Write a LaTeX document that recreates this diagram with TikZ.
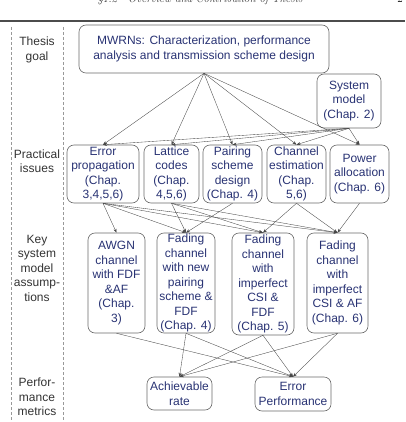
\documentclass[tikz,border=0pt]{standalone}
\usepackage{fontspec}
\newfontfamily\diagfont{Liberation Sans}
\usetikzlibrary{arrows.meta}
\definecolor{boxtext}{RGB}{40,50,115}
\definecolor{boxline}{RGB}{105,105,105}
\definecolor{linkgray}{RGB}{70,70,70}

\begin{document}
\begin{tikzpicture}[x=1pt,y=-1pt,
    box/.style={draw=boxline,line width=0.6pt,rounded corners=7pt,align=center,
        inner sep=0pt,text=boxtext,font=\diagfont\fontsize{12}{14.5}\selectfont},
    rowlabel/.style={align=center,inner sep=0pt,text=black!80,
        font=\diagfont\fontsize{12}{14.5}\selectfont},
    link/.style={draw=linkgray,line width=0.35pt,-{Stealth[length=4pt,width=3pt]}}]
    \useasboundingbox (0,0) rectangle (405,422);

    \node[anchor=base,font=\itshape\fontsize{11}{13}\selectfont,text=black!80] (head) at (200,3)
        {\S1.2\quad Overview and Contribution of Thesis};
    \node[anchor=base,font=\fontsize{11}{13}\selectfont] (pagenum) at (400,3) {2};
    \draw[line width=1.1pt,black!70] (0,21) -- (405,21);

    \draw[dashed,black!40,dash pattern=on 3pt off 2pt] (11,27) -- (11,422);
    \draw[dashed,black!40,dash pattern=on 3pt off 2pt] (63,27) -- (63,422);

    \node[rowlabel] (lgoal) at (37,50) {Thesis\\goal};
    \node[rowlabel] (lissue) at (37,161) {Practical\\issues};
    \node[rowlabel] (lmodel) at (37,268) {Key\\system\\model\\assump-\\tions};
    \node[rowlabel] (lmetric) at (37,397) {Perfor-\\mance\\metrics};

    \node[box,minimum width=250pt,minimum height=48pt] (goal) at (204,49)
        {MWRNs: Characterization, performance\\analysis and transmission scheme design};
    \node[box,minimum width=64pt,minimum height=54pt] (sys) at (349,101)
        {System\\model\\(Chap. 2)};

    \node[box,minimum width=72pt,minimum height=58pt] (err) at (103,174)
        {Error\\propagation\\(Chap.\\3,4,5,6)};
    \node[box,minimum width=55pt,minimum height=58pt] (lat) at (171.5,174)
        {Lattice\\codes\\(Chap.\\4,5,6)};
    \node[box,minimum width=59pt,minimum height=58pt] (pair) at (232.5,174)
        {Pairing\\scheme\\design\\(Chap. 4)};
    \node[box,minimum width=59pt,minimum height=58pt] (chan) at (296.5,174)
        {Channel\\estimation\\(Chap.\\5,6)};
    \node[box,minimum width=59pt,minimum height=58pt] (pow) at (359.5,174)
        {Power\\allocation\\(Chap. 6)};

    \node[box,minimum width=57pt,minimum height=100pt] (awgn) at (116.5,283)
        {AWGN\\channel\\with FDF\\\&AF\\(Chap.\\3)};
    \node[box,minimum width=58pt,minimum height=100pt] (fnew) at (186,283)
        {Fading\\channel\\with new\\pairing\\scheme \&\\FDF\\(Chap. 4)};
    \node[box,minimum width=62pt,minimum height=102pt] (ffdf) at (263,284)
        {Fading\\channel\\with\\imperfect\\CSI \&\\FDF\\(Chap. 5)};
    \node[box,minimum width=61pt,minimum height=100pt] (faf) at (337.5,283)
        {Fading\\channel\\with\\imperfect\\CSI \& AF\\(Chap. 6)};

    \node[box,minimum width=65pt,minimum height=33pt] (ach) at (179.5,393.5)
        {Achievable\\rate};
    \node[box,minimum width=76pt,minimum height=34pt] (ep) at (293,394)
        {Error\\Performance};

    \draw[link] (goal.south) -- (err.north);
    \draw[link] (goal.south) -- (lat.north);
    \draw[link] (goal.south) -- (pair.north);
    \draw[link] (goal.south) -- (chan.north);
    \draw[link] (goal.south) -- (pow.north);

    \draw[link] (sys.south) -- (err.north);
    \draw[link] (sys.south) -- (lat.north);
    \draw[link] (sys.south) -- (pair.north);
    \draw[link] (sys.south) -- (chan.north);
    \draw[link] (sys.south) -- (pow.north);

    \draw[link] (err.south) -- (awgn.north);
    \draw[link] (err.south) -- (fnew.north);
    \draw[link] (err.south) -- (ffdf.north);
    \draw[link] (err.south) -- (faf.north);
    \draw[link] (lat.south) -- (fnew.north);
    \draw[link] (lat.south) -- (ffdf.north);
    \draw[link] (lat.south) -- (faf.north);
    \draw[link] (pair.south) -- (fnew.north);
    \draw[link] (chan.south) -- (ffdf.north);
    \draw[link] (chan.south) -- (faf.north);
    \draw[link] (pow.south) -- (faf.north);

    \draw[link] (awgn.south) -- (ep.north);
    \draw[link] (fnew.south) -- (ach.north);
    \draw[link] (fnew.south) -- (ep.north);
    \draw[link] (ffdf.south) -- (ach.north);
    \draw[link] (ffdf.south) -- (ep.north);
    \draw[link] (faf.south) -- (ach.north);
    \draw[link] (faf.south) -- (ep.north);
\end{tikzpicture}
\end{document}
